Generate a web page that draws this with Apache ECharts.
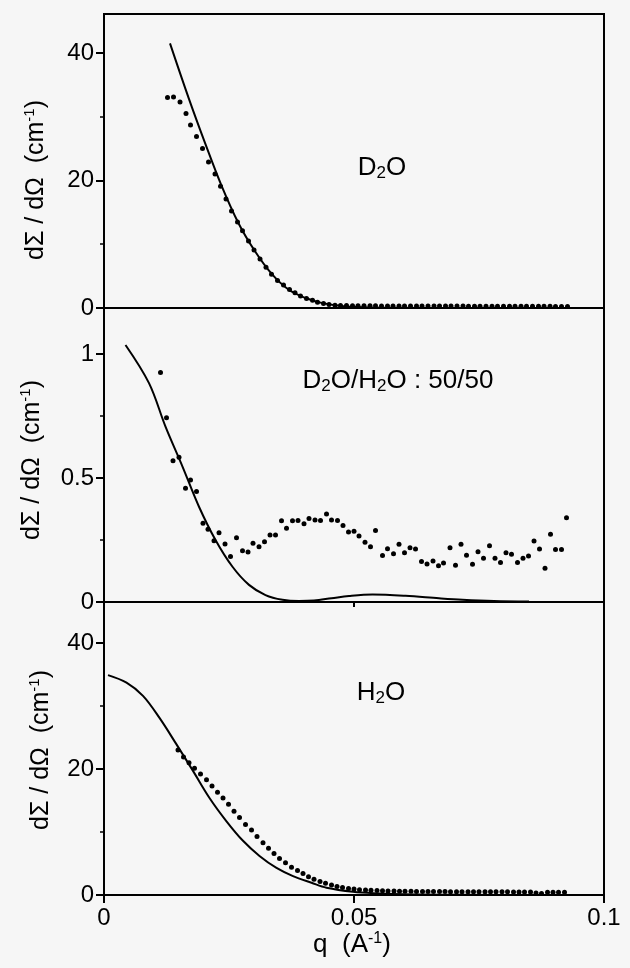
<!DOCTYPE html>
<html><head><meta charset="utf-8">
<script src="https://cdn.jsdelivr.net/npm/echarts@6/dist/echarts.min.js"></script>
<style>html,body{margin:0;padding:0;background:#f6f6f6}#c{width:630px;height:968px}</style>
</head><body><div id="c"></div>
<script>
// ---------- data (q in A^-1, intensity in cm^-1) ----------
const d2oFit = [[0.0132,41.5],[0.0169,33.0],[0.0202,25.9],[0.0235,19.2],[0.0269,13.3],[0.0302,8.9],[0.0335,5.4],[0.0369,2.9],[0.0402,1.6],[0.0435,0.8],[0.0475,0.3],[0.052,0.1],[0.06,0.02],[0.07,0],[0.093,0]];
const d2oData = [[0.0127,33.0],[0.0139,33.1],[0.0152,32.3],[0.0164,30.5],[0.0173,28.7],[0.0185,26.9],[0.0197,25.0],[0.0209,22.9],[0.0222,21.0],[0.0233,19.1],[0.0244,17.1],[0.0255,15.2],[0.0267,13.5],[0.0277,12.1],[0.0289,10.5],[0.0300,9.1],[0.0312,7.7],[0.0324,6.4],[0.0335,5.3],[0.0347,4.3],[0.0359,3.6],[0.0371,2.9],[0.0382,2.4],[0.0393,1.9],[0.0405,1.5],[0.0417,1.2],[0.0427,0.9],[0.0439,0.7],[0.0450,0.55],[0.0462,0.45],[0.0473,0.4],[0.0485,0.38],[0.0497,0.36],[0.0508,0.35],[0.0520,0.35],[0.0532,0.34],[0.0543,0.34],[0.0555,0.33],[0.0567,0.33],[0.0578,0.33],[0.0590,0.32],[0.0601,0.32],[0.0613,0.32],[0.0625,0.31],[0.0636,0.31],[0.0648,0.31],[0.0660,0.31],[0.0671,0.30],[0.0683,0.30],[0.0694,0.30],[0.0706,0.30],[0.0718,0.30],[0.0729,0.29],[0.0741,0.29],[0.0752,0.29],[0.0764,0.29],[0.0776,0.28],[0.0787,0.28],[0.0799,0.28],[0.0811,0.28],[0.0822,0.27],[0.0834,0.27],[0.0845,0.27],[0.0857,0.27],[0.0869,0.26],[0.0880,0.26],[0.0892,0.26],[0.0903,0.25],[0.0915,0.25],[0.0927,0.25]];

const mixFit = [[0.0043,1.036],[0.009,0.882],[0.0123,0.707],[0.0157,0.546],[0.019,0.384],[0.0223,0.25],[0.0257,0.142],[0.029,0.069],[0.0323,0.028],[0.0357,0.009],[0.039,0.004],[0.042,0.006],[0.0455,0.015],[0.049,0.024],[0.0537,0.03],[0.0603,0.025],[0.067,0.015],[0.0717,0.009],[0.078,0.004],[0.085,0.002]];
const mixData = [[0.0113,0.925],[0.0125,0.743],[0.0138,0.569],[0.0150,0.583],[0.0163,0.458],[0.0173,0.492],[0.0185,0.445],[0.0198,0.317],[0.0208,0.293],[0.0220,0.247],[0.0230,0.279],[0.0242,0.234],[0.0253,0.183],[0.0265,0.259],[0.0277,0.207],[0.0288,0.202],[0.0298,0.237],[0.0310,0.223],[0.0321,0.243],[0.0332,0.270],[0.0343,0.270],[0.0355,0.327],[0.0365,0.297],[0.0377,0.327],[0.0388,0.328],[0.0400,0.315],[0.0410,0.337],[0.0422,0.331],[0.0433,0.328],[0.0445,0.355],[0.0455,0.331],[0.0467,0.328],[0.0478,0.308],[0.0489,0.282],[0.0500,0.285],[0.0510,0.266],[0.0522,0.241],[0.0533,0.223],[0.0543,0.288],[0.0557,0.187],[0.0567,0.215],[0.0579,0.194],[0.0590,0.233],[0.0601,0.199],[0.0612,0.219],[0.0623,0.214],[0.0635,0.163],[0.0646,0.153],[0.0658,0.165],[0.0669,0.146],[0.0679,0.157],[0.0692,0.219],[0.0703,0.148],[0.0714,0.233],[0.0725,0.188],[0.0737,0.152],[0.0748,0.203],[0.0759,0.176],[0.0771,0.227],[0.0782,0.176],[0.0793,0.159],[0.0804,0.199],[0.0815,0.192],[0.0827,0.159],[0.0838,0.176],[0.0849,0.185],[0.0860,0.246],[0.0871,0.214],[0.0882,0.136],[0.0893,0.273],[0.0903,0.212],[0.0915,0.212],[0.0925,0.340]];

const h2oFit = [[0.0008,34.9],[0.0045,33.7],[0.0078,31.6],[0.0111,28.1],[0.0145,23.9],[0.0178,19.7],[0.0211,15.4],[0.0245,11.7],[0.0278,8.6],[0.0311,6.2],[0.0345,4.3],[0.0378,3.0],[0.0415,1.95],[0.0445,1.16],[0.0498,0.52],[0.055,0.25],[0.06,0.1],[0.07,0.02],[0.092,0]];
const h2oData = [[0.0148,23.0],[0.0159,21.9],[0.0170,21.0],[0.0181,20.1],[0.0193,19.2],[0.0205,18.3],[0.0216,17.3],[0.0227,16.3],[0.0238,15.4],[0.0249,14.4],[0.0260,13.3],[0.0271,12.3],[0.0283,11.2],[0.0295,10.3],[0.0306,9.3],[0.0318,8.3],[0.0329,7.4],[0.0340,6.6],[0.0351,5.8],[0.0363,5.1],[0.0375,4.4],[0.0387,3.9],[0.0398,3.4],[0.0409,2.9],[0.0420,2.5],[0.0432,2.15],[0.0443,1.85],[0.0455,1.6],[0.0466,1.35],[0.0477,1.2],[0.0489,1.05],[0.0500,0.95],[0.0511,0.85],[0.0523,0.8],[0.0534,0.75],[0.0546,0.7],[0.0557,0.68],[0.0568,0.65],[0.0580,0.62],[0.0591,0.6],[0.0602,0.6],[0.0614,0.58],[0.0625,0.57],[0.0637,0.56],[0.0648,0.55],[0.0659,0.55],[0.0671,0.54],[0.0682,0.54],[0.0693,0.53],[0.0705,0.53],[0.0716,0.52],[0.0728,0.52],[0.0739,0.52],[0.0750,0.51],[0.0762,0.51],[0.0773,0.5],[0.0784,0.5],[0.0796,0.5],[0.0807,0.5],[0.0819,0.49],[0.0830,0.49],[0.0841,0.48],[0.0853,0.48],[0.0864,0.3],[0.0875,0.25],[0.0887,0.45],[0.0898,0.45],[0.0909,0.45],[0.0921,0.45]];

const xTicks = [0, 0.05, 0.1];
const topTicks = [0, 20, 40], topMinor = [10, 30];
const midTicks = [0, 0.5, 1], midMinor = [0.25, 0.75];
const botTicks = [0, 20, 40], botMinor = [10, 30];
const yMax = [46.1, 1.185, 46.5];
const panelLabels = ['D{s|2}O', 'D{s|2}O/H{s|2}O : 50/50', 'H{s|2}O'];

// ---------- chart ----------
const FONT = 'Liberation Sans';
const LEFT = 104, WIDTH = 500;
const tops = [14, 308, 602], heights = [294, 294, 293];

const grids = tops.map((t, i) => ({left: LEFT, top: t, width: WIDTH, height: heights[i], show: true,
  borderColor: '#000', borderWidth: 2, backgroundColor: 'transparent'}));

const labelStyle = {fontFamily: FONT, fontSize: 24, color: '#000'};
const xAxes = [0, 1, 2].map(i => ({
  type: 'value', gridIndex: i, min: 0, max: 0.1, position: 'bottom',
  axisLine: {show: false}, splitLine: {show: false},
  axisTick: {show: i > 0, length: i === 2 ? 8 : 5, customValues: i === 2 ? xTicks : [0.05], lineStyle: {color: '#000', width: 2}},
  axisLabel: Object.assign({show: i === 2, customValues: xTicks, margin: 11}, labelStyle)
}));

const majors = [topTicks, midTicks, botTicks], minors = [topMinor, midMinor, botMinor];
const yAxes = [];
[0, 1, 2].forEach(i => {
  yAxes.push({type: 'value', gridIndex: i, min: 0, max: yMax[i], position: 'left',
    axisLine: {show: false}, splitLine: {show: false},
    axisTick: {show: true, length: 8, customValues: majors[i], lineStyle: {color: '#000', width: 2}},
    axisLabel: Object.assign({customValues: majors[i], margin: 10}, labelStyle)});
  yAxes.push({type: 'value', gridIndex: i, min: 0, max: yMax[i], position: 'left',
    axisLine: {show: false}, splitLine: {show: false},
    axisTick: {show: true, length: 4, customValues: minors[i], lineStyle: {color: '#000', width: 1.5}},
    axisLabel: {show: false}});
});

const fits = [d2oFit, mixFit, h2oFit], datas = [d2oData, mixData, h2oData];
const series = [];
[0, 1, 2].forEach(i => {
  series.push({type: 'line', xAxisIndex: i, yAxisIndex: 2 * i, data: fits[i], smooth: 0.35,
    showSymbol: false, symbol: 'none', lineStyle: {color: '#000', width: 2}, silent: true});
  series.push({type: 'scatter', xAxisIndex: i, yAxisIndex: 2 * i, data: datas[i], symbol: 'circle',
    symbolSize: 5, itemStyle: {color: '#000', opacity: 1}, silent: true});
});

function txt(x, y, text, size, rot) {
  return {type: 'text', x: x, y: y, rotation: rot || 0, silent: true,
    style: {text: text, fontFamily: FONT, fontSize: size, fill: '#000', align: 'center', verticalAlign: 'middle',
      rich: {
        s: {fontFamily: FONT, fontSize: Math.round(size * 0.66), verticalAlign: 'bottom', lineHeight: size + 2},
        u: {fontFamily: FONT, fontSize: Math.round(size * 0.6), verticalAlign: 'top', lineHeight: size + 2},
        n: {fontFamily: FONT, fontSize: size, verticalAlign: 'middle', lineHeight: size + 2}}}};
}
const yName = '{n|d\u03A3 / d\u03A9  (cm}{u|-1}{n|)}';
const graphic = [
  txt(382, 168, panelLabels[0], 26),
  txt(398, 381, panelLabels[1], 26),
  txt(381, 693, panelLabels[2], 26),
  txt(36, 180, yName, 25, Math.PI / 2),
  txt(32, 460, yName, 25, Math.PI / 2),
  txt(41, 750, yName, 25, Math.PI / 2),
  txt(352, 945, '{n|q  (A}{u|-1}{n|)}', 26)
];

const chart = echarts.init(document.getElementById('c'), null, {renderer: 'canvas'});
chart.setOption({backgroundColor: '#f6f6f6', animation: false, grid: grids, xAxis: xAxes, yAxis: yAxes, series: series, graphic: graphic});
</script></body></html>
